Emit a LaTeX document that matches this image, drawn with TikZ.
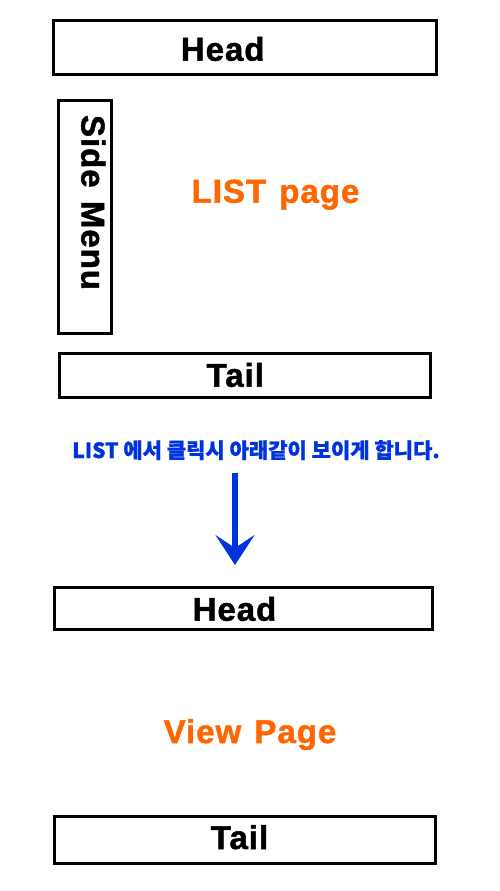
\documentclass[tikz,border=0pt]{standalone}
\usepackage{fontspec}
\setmainfont{Liberation Sans}
\newfontfamily\titlefont[LetterSpace=3, WordSpace=1.3, FakeBold=1.5]{Liberation Sans}
\newfontfamily\krfont[FakeBold=1]{Noto Sans CJK KR}
\usetikzlibrary{arrows.meta}
\definecolor{pageorange}{RGB}{255,102,0}
\definecolor{noteblue}{RGB}{0,51,221}

\begin{document}
\begin{tikzpicture}[x=1pt, y=-1pt,
    frame/.style ={draw, line width=3pt, inner sep=0pt},
    title/.style ={anchor=base, font=\titlefont\bfseries\fontsize{33}{38}\selectfont},
    pagename/.style ={title, text=pageorange}]
   \useasboundingbox (0,0) rectangle (500,891);
   % list page
   \node[frame, minimum width=383pt, minimum height=53.7pt] (head1) at (245.3,47.7) {};
   \node[title] (headtext1) at (222.7,60.7) {Head};
   \node[frame, minimum width=53.6pt, minimum height=232.7pt] (side) at (85,217.2) {};
   \node[title, rotate=-90] (sidetext) at (81.5,202.5) {Side Menu};
   \node[pagename] (list) at (275.5,202.7) {LIST page};
   \node[frame, minimum width=370.4pt, minimum height=44pt] (tail1) at (245,375.8) {};
   \node[title] (tailtext1) at (235.3,386.7) {Tail};
   % click note
   \node[anchor=base, text=noteblue, font=\krfont\bfseries\fontsize{21}{24}\selectfont] (note) at (256,458) {LIST 에서 클릭시 아래같이 보이게 합니다.};
   \coordinate (from) at (235,473.3);
   \coordinate (to) at (235,565);
   \draw[noteblue, line width=6.7pt, -{Stealth[length=30pt, width=39pt, inset=13pt]}] (from) -- (to);
   % view page
   \node[frame, minimum width=378.6pt, minimum height=42pt] (head2) at (243.5,608.5) {};
   \node[title] (headtext2) at (234.5,620.7) {Head};
   \node[pagename] (view) at (250,743) {View Page};
   \node[frame, minimum width=381pt, minimum height=47.3pt] (tail2) at (244.7,839.9) {};
   \node[title] (tailtext2) at (239.5,849) {Tail};
 \end{tikzpicture}
\end{document}
